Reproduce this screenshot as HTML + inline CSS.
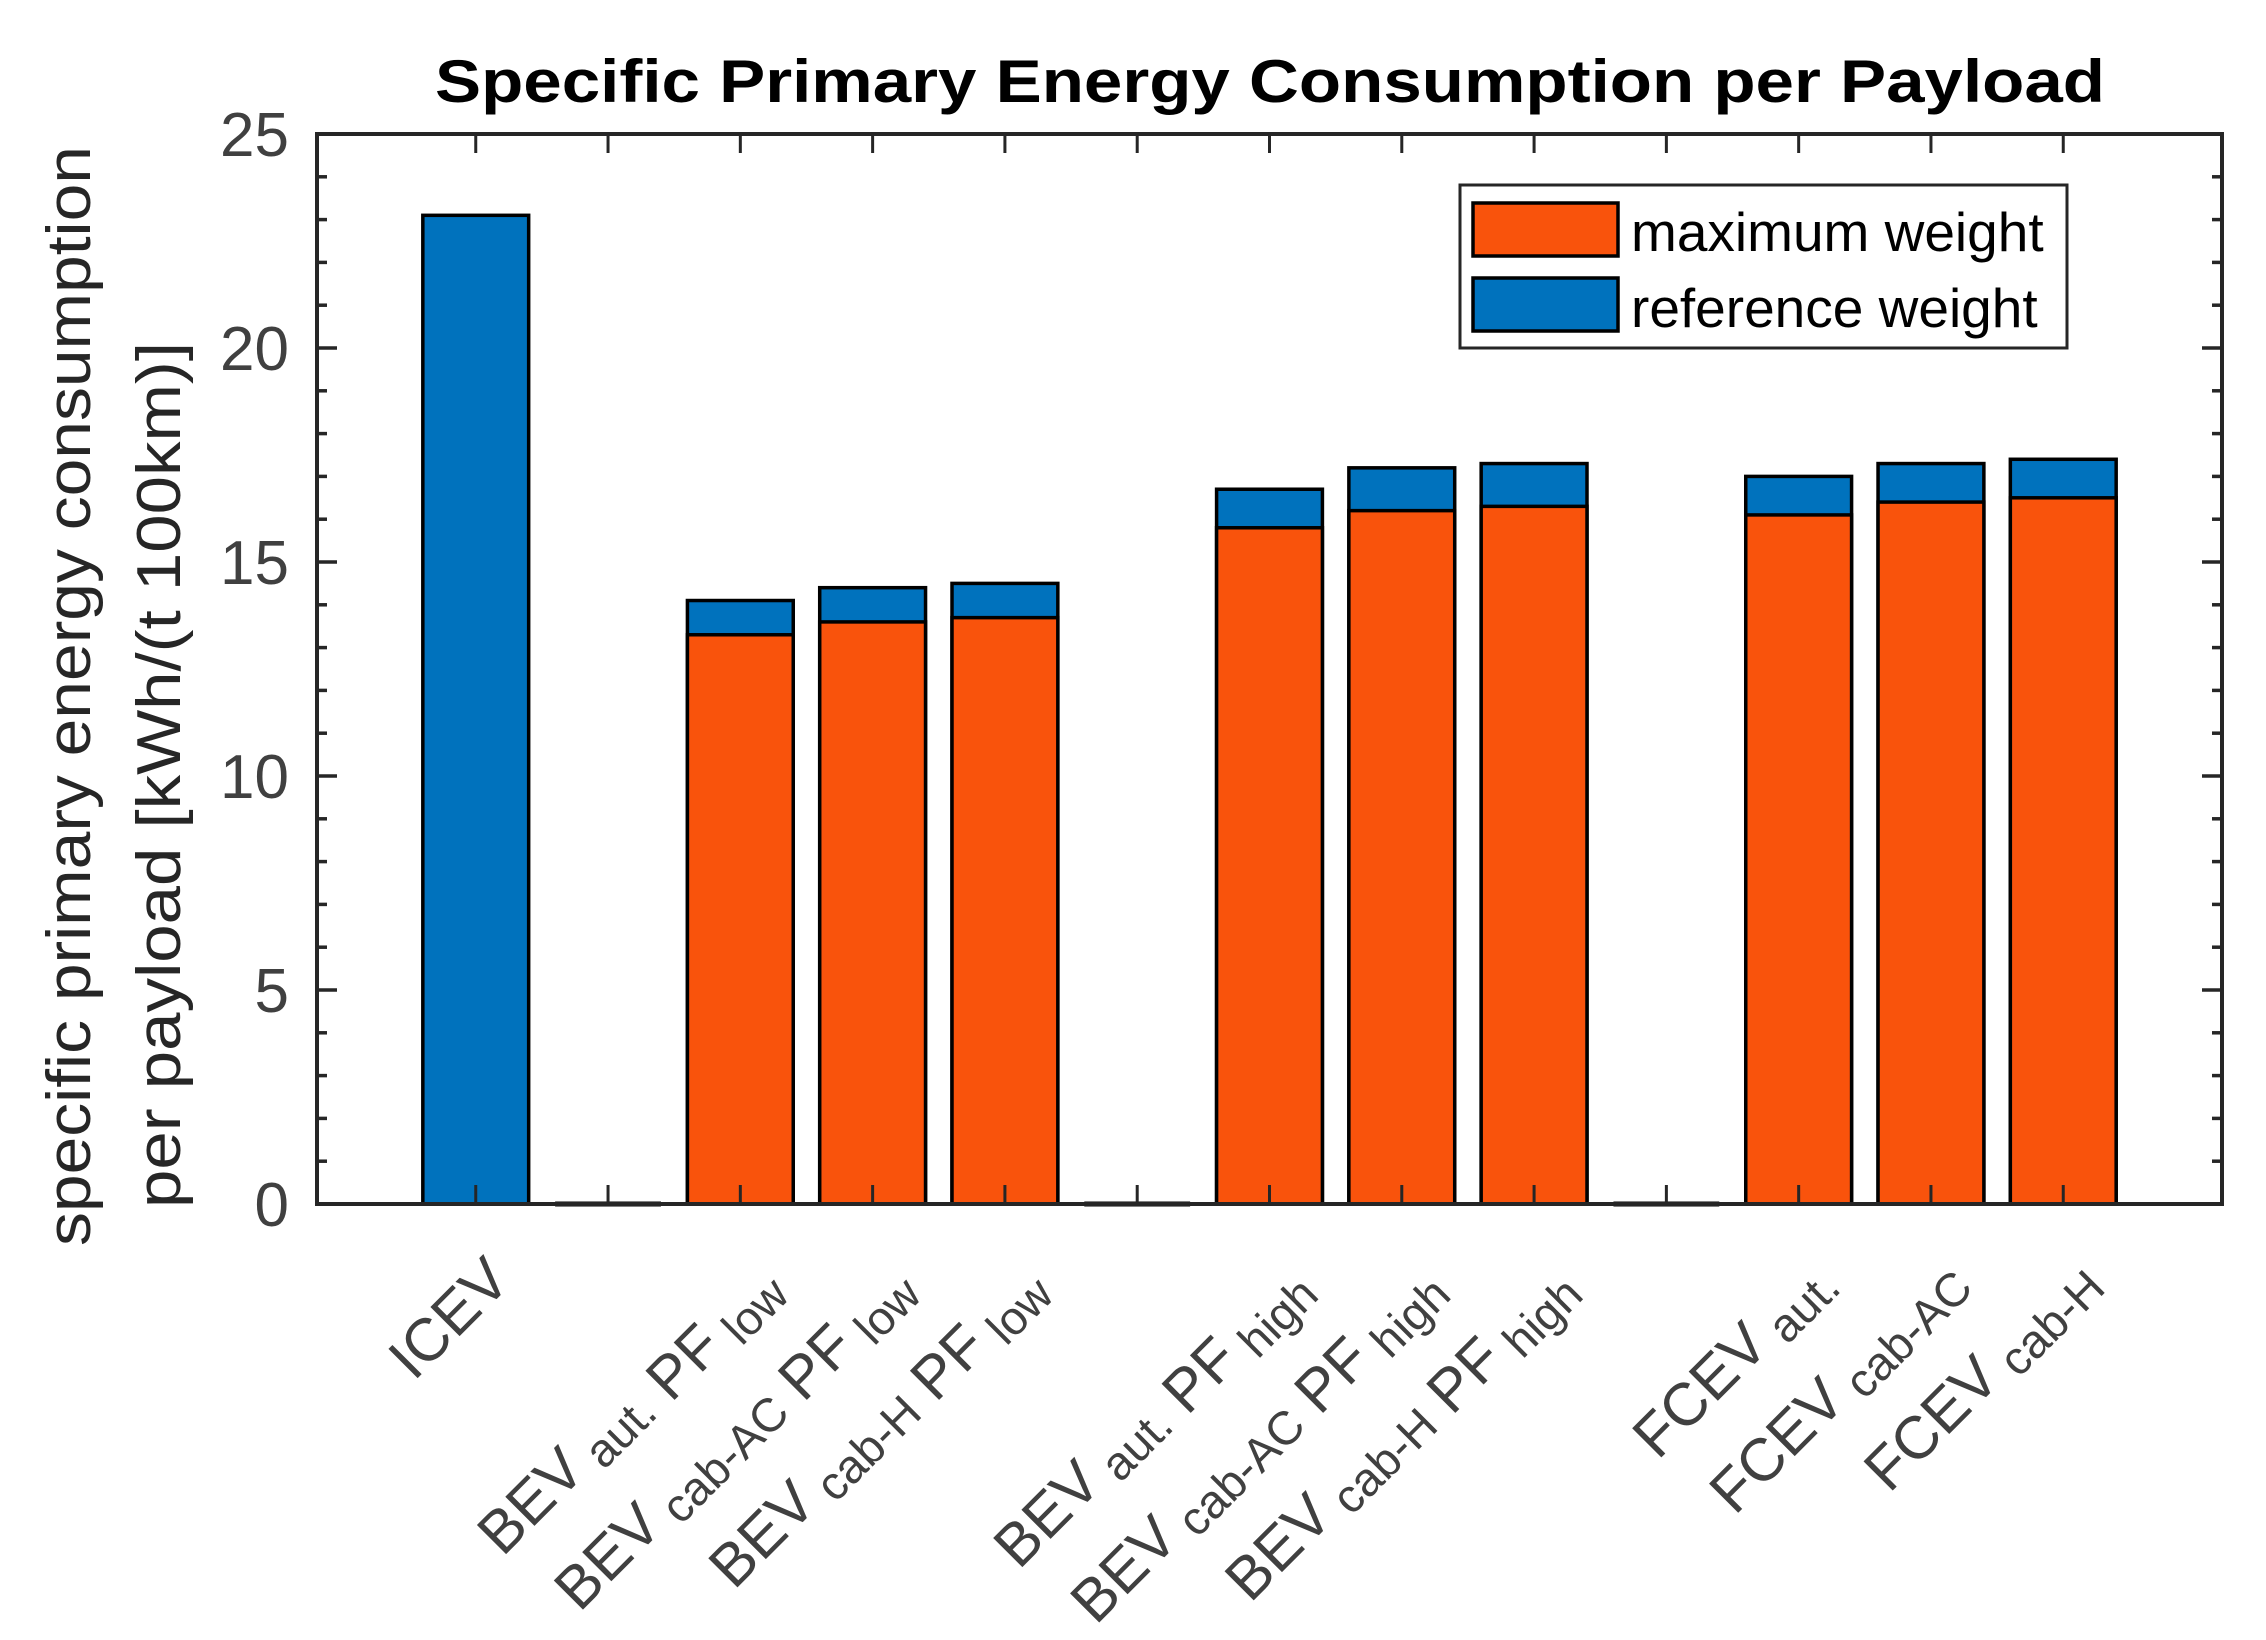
<!DOCTYPE html>
<html><head><meta charset="utf-8"><style>
html,body{margin:0;padding:0;background:#fff;}
svg{display:block;font-family:"Liberation Sans",Arial,sans-serif;}
</style></head><body>
<svg id="chart" width="2266" height="1640" viewBox="0 0 2266 1640" xmlns="http://www.w3.org/2000/svg">
<rect x="0" y="0" width="2266" height="1640" fill="#fff"/>
<text x="1270" y="102" text-anchor="middle" font-size="60" font-weight="bold" fill="#000" textLength="1670" lengthAdjust="spacingAndGlyphs">Specific Primary Energy Consumption per Payload</text>
<g id="plot"></g>
<text transform="translate(90,696) rotate(-90)" text-anchor="middle" font-size="62" fill="#262626" textLength="1100" lengthAdjust="spacingAndGlyphs">specific primary energy consumption</text>
<text transform="translate(180,775) rotate(-90)" text-anchor="middle" font-size="62" fill="#262626" textLength="866" lengthAdjust="spacingAndGlyphs">per payload [kWh/(t 100km)]</text>
<g>
<rect x="1460" y="185" width="607" height="163" fill="#fff" stroke="#262626" stroke-width="3"/>
<rect x="1473" y="203" width="145" height="53" fill="#F9530C" stroke="#000" stroke-width="3.5"/>
<text x="1631" y="251" font-size="55" fill="#000">maximum weight</text>
<rect x="1473" y="278" width="145" height="53" fill="#0072BD" stroke="#000" stroke-width="3.5"/>
<text x="1631" y="327" font-size="55" fill="#000">reference weight</text>
</g>
</svg>
<script>
const categories = ["ICEV","","BEV aut. PF low","BEV cab-AC PF low","BEV cab-H PF low","","BEV aut. PF high","BEV cab-AC PF high","BEV cab-H PF high","","FCEV aut.","FCEV cab-AC","FCEV cab-H"];
const labelMain = [["ICEV"],[],["BEV","PF"],["BEV","PF"],["BEV","PF"],[],["BEV","PF"],["BEV","PF"],["BEV","PF"],[],["FCEV"],["FCEV"],["FCEV"]];
const labelSub = [[""],[],["aut.","low"],["cab-AC","low"],["cab-H","low"],[],["aut.","high"],["cab-AC","high"],["cab-H","high"],[],["aut."],["cab-AC"],["cab-H"]];
const maxWeight = [0,0,13.3,13.6,13.7,0,15.8,16.2,16.3,0,16.1,16.4,16.5];
const refWeight = [23.1,0,14.1,14.4,14.5,0,16.7,17.2,17.3,0,17.0,17.3,17.4];
const yTicks = [0,5,10,15,20,25];

const NS="http://www.w3.org/2000/svg";
const plot=document.getElementById('plot');
const L=317,R=2222,T=134,B=1204,yMin=0,yMax=25;
const nCat=categories.length;
const step=(R-L)/(nCat-1+2.4);
function xPos(i){return L+step*(1.2+i);}
function yPos(v){return B-(v-yMin)/(yMax-yMin)*(B-T);}
function mk(tag,attrs){const e=document.createElementNS(NS,tag);for(const k in attrs)e.setAttribute(k,attrs[k]);return e;}
const bw=step*0.8;

for(let i=0;i<nCat;i++){
  const x=xPos(i)-bw/2;
  const r=mk('rect',{x:x,y:yPos(refWeight[i]),width:bw,height:Math.max(0,yPos(0)-yPos(refWeight[i])),fill:'#0072BD',stroke:'#000','stroke-width':3.5});
  
  
  plot.appendChild(r);
  if(maxWeight[i]>0){
    const m=mk('rect',{x:x,y:yPos(maxWeight[i]),width:bw,height:yPos(0)-yPos(maxWeight[i]),fill:'#F9530C',stroke:'#000','stroke-width':3.5});
    
    
    plot.appendChild(m);
  }
  if(refWeight[i]===0){
    const z=mk('line',{x1:x,x2:x+bw,y1:yPos(0),y2:yPos(0),stroke:'#000','stroke-width':5});
    
    
    plot.appendChild(z);
  }
}
const box=mk('rect',{x:L,y:T,width:R-L,height:B-T,fill:'none',stroke:'#262626','stroke-width':4});


plot.appendChild(box);
for(let v=yMin;v<=yMax;v++){
  const y=yPos(v);const major=(v%5===0);const len=major?20:10;
  const t1=mk('line',{x1:L,x2:L+len,y1:y,y2:y,stroke:'#262626','stroke-width':3.5});
  
  
  plot.appendChild(t1);
  const t2=mk('line',{x1:R,x2:R-len,y1:y,y2:y,stroke:'#262626','stroke-width':3.5});
  
  
  plot.appendChild(t2);
}
yTicks.forEach(v=>{
  const t=mk('text',{x:289,y:yPos(v)+22,'text-anchor':'end','font-size':62,fill:'#404040'});
  t.textContent=String(v);
  
  
  plot.appendChild(t);
});
for(let i=0;i<nCat;i++){
  const x=xPos(i);
  const a=mk('line',{x1:x,x2:x,y1:B,y2:B-19,stroke:'#262626','stroke-width':3});
  
  
  plot.appendChild(a);
  const b=mk('line',{x1:x,x2:x,y1:T,y2:T+19,stroke:'#262626','stroke-width':3});
  
  
  plot.appendChild(b);
  if(labelMain[i].length===0)continue;
  const t=mk('text',{transform:'translate('+(x+37)+','+(B+79)+') rotate(-45)','text-anchor':'end','font-size':60,fill:'#404040'});
  
  
  labelMain[i].forEach((mstr,k)=>{
    const s1=mk('tspan',{});
    s1.textContent=(k>0?'  ':'')+mstr;
    t.appendChild(s1);
    if(labelSub[i][k]){
      const s2=mk('tspan',{'font-size':47,dy:10});
      s2.textContent=' '+labelSub[i][k];
      t.appendChild(s2);
      const s3=mk('tspan',{dy:-10});
      s3.textContent='';
      t.appendChild(s3);
    }
  });
  plot.appendChild(t);
}
</script>
</body></html>
